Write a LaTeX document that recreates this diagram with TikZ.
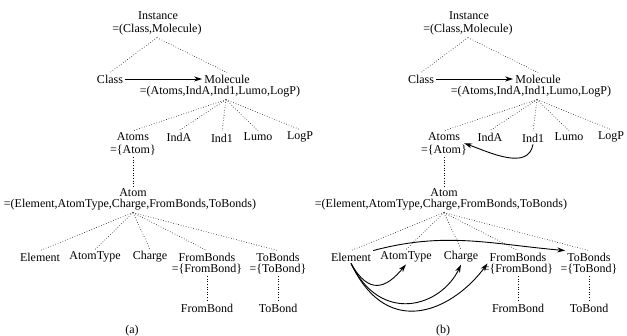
\documentclass[tikz,border=0pt]{standalone}
\usepackage{fontspec}
\setmainfont{Liberation Serif}
\usetikzlibrary{arrows.meta}

\tikzset{
  lbl/.style={font=\fontsize{12}{14}\selectfont, inner sep=2pt},
  dots/.style={dotted, line width=0.6pt},
  arr/.style={line width=0.9pt, -{Stealth[length=8pt,width=5pt]}},
}

\begin{document}
\begin{tikzpicture}[x=1pt, y=-1pt]
    \useasboundingbox (0,0) rectangle (627,336);
    % the same tree twice, (a) left and (b) right
    \foreach \p/\dx in {a/0, b/311} {
      \begin{scope}[xshift=\dx pt]
        \node [lbl] (\p-inst) at (158,16) {Instance};
        \node [lbl] (\p-instT) at (157,30) {=(Class,Molecule)};
        \node [lbl] (\p-cls) at (110,79) {Class};
        \node [lbl] (\p-mol) at (227,79) {Molecule};
        \node [lbl] (\p-molT) at (220,92) {=(Atoms,IndA,Ind1,Lumo,LogP)};
        \node [lbl] (\p-atoms) at (133,137) {Atoms};
        \node [lbl] (\p-atomsT) at (133,150) {=\{Atom\}};
        \node [lbl] (\p-inda) at (179,137) {IndA};
        \node [lbl] (\p-ind1) at (222,138) {Ind1};
        \node [lbl] (\p-lumo) at (258,137) {Lumo};
        \node [lbl] (\p-logp) at (300,137) {LogP};
        \node [lbl] (\p-atom) at (133,193) {Atom};
        \node [lbl] (\p-atomT) at (130,205) {=(Element,AtomType,Charge,FromBonds,ToBonds)};
        \node [lbl] (\p-elem) at (40,257) {Element};
        \node [lbl] (\p-atype) at (95,257) {AtomType};
        \node [lbl] (\p-charge) at (150,257) {Charge};
        \node [lbl] (\p-fbs) at (207,257) {FromBonds};
        \node [lbl] (\p-fbsT) at (207,269) {=\{FromBond\}};
        \node [lbl] (\p-tbs) at (278,257) {ToBonds};
        \node [lbl] (\p-tbsT) at (278,269) {=\{ToBond\}};
        \node [lbl] (\p-fb) at (207,308) {FromBond};
        \node [lbl] (\p-tb) at (278,308) {ToBond};
        \node [lbl] (\p-cap) at (132,331) {(\p)};

        \draw [dots] (\p-instT.south) -- (\p-cls.north);
        \draw [dots] (\p-instT.south) -- (\p-mol.north);
        \draw [arr] (\p-cls) -- (\p-mol);
        \foreach \c in {atoms, inda, ind1, lumo, logp}
          \draw [dots] ([xshift=6pt]\p-molT.south) -- (\p-\c.north);
        \draw [dots] (\p-atomsT.south) -- (\p-atom.north);
        \foreach \c in {elem, atype, charge, fbs, tbs}
          \draw [dots] ([xshift=3pt]\p-atomT.south) -- (\p-\c.north);
        \draw [dots] (\p-fbsT.south) -- (\p-fb.north);
        \draw [dots] (\p-tbsT.south) -- (\p-tb.north);
      \end{scope}
    }
    % extra links in (b)
    \draw [arr] (b-ind1.south) to[out=-100, in=-20] ([xshift=2pt]b-atoms.south east);
    \draw [arr] (b-elem.north east) to[out=15, in=175] (b-tbs.north west);
    \draw [arr] (b-elem.south) .. controls +(18,32) and +(-20,24) .. (b-atype.south);
    \draw [arr] (b-elem.south) .. controls +(30,62) and +(-20,42) .. (b-charge.south);
    \draw [arr] (b-elem.south) .. controls +(38,80) and +(-32,44) .. (b-fbs.south west);
\end{tikzpicture}
\end{document}
